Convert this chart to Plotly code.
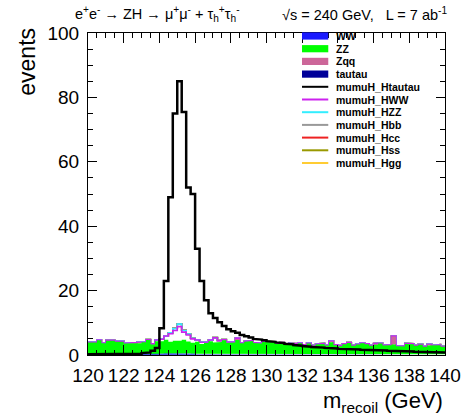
import numpy as np
import plotly.graph_objects as go

# ---------------- data ----------------
X_MIN, X_MAX, BIN_W = 120.0, 140.0, 0.25
edges = X_MIN + BIN_W * np.arange(81)

ww = [0.15]*16 + [0.3, 0.4, 0.4, 0.5, 0.5, 0.4, 0.4, 0.3] + [0.15]*56
tautau = [0.1]*80
zz = [3.6, 3.6, 4.3, 3.4, 4.2, 4.2, 3.9, 3.9, 3.3, 3.3, 3.5, 3.4, 3.7, 4.4, 3.0, 4.0,
      3.9, 4.2, 3.6, 3.8, 3.8, 4.2, 3.7, 3.4, 3.9, 3.2, 3.5, 4.0, 3.6, 3.8, 4.3, 3.5,
      3.6, 4.4, 3.4, 3.9, 4.1, 3.5, 3.3, 3.8, 3.6, 3.7, 3.2, 3.5, 3.0, 3.3, 3.1, 3.4,
      2.8, 3.3, 2.6, 3.0, 3.2, 2.7, 3.7, 2.8, 2.5, 3.1, 3.5, 2.6, 3.0, 3.4, 3.1, 2.6,
      2.9, 3.3, 2.7, 2.8, 3.0, 2.5, 2.4, 3.2, 3.1, 2.6, 2.9, 2.3, 2.7, 2.6, 2.8, 2.3]
zqq = [0.0]*80
for k, v in {11: 0.2, 33: 0.3, 54: 0.3, 64: 0.3, 68: 2.5, 76: 0.3}.items():
    zqq[k] = v

h_ww = [0.1]*14 + [0.2, 0.4, 0.6, 1.2, 2.5, 3.2, 4.4, 2.4, 2.0, 1.2, 0.5, 0.5, 0.3, 0.4,
                   1.5, 0.4, 0.2, 0.3, 0.2, 0.3] + [0.1]*46
h_zz = [0.05]*18 + [0.3, 0.6, 0.8, 0.5, 0.3, 0.2] + [0.05]*56
h_bb = [0.0]*19 + [0.1, 0.1, 0.1] + [0.0]*58
h_cc = [0.0]*80
h_ss = [0.0]*80
h_gg = [0.0]*80

h_tautau = [0.2, 0.2, 0.2, 0.2, 0.2, 0.2, 0.3, 0.3, 0.3, 0.3, 0.4, 0.4, 0.6, 0.8, 1.3, 2.2,
            8.3, 23.0, 49.0, 75.0, 85.0, 75.5, 52.0, 50.0, 33.0, 23.0, 17.0, 13.0,
            11.5, 10.2, 9.0, 8.0, 7.4, 6.9, 6.2, 5.8, 5.4, 5.0, 4.8, 4.6,
            4.3, 4.1, 3.9, 3.7, 3.5, 3.3, 3.1, 2.9, 2.8, 2.6, 2.5, 2.4,
            2.3, 2.2, 2.1, 2.0, 1.9, 1.9, 1.8, 1.7, 1.7, 1.6, 1.6, 1.5,
            1.5, 1.4, 1.4, 1.3, 1.3, 1.2, 1.2, 1.1, 1.1, 1.0, 1.0, 0.9,
            0.9, 0.8, 0.8, 0.8]

bkg_names = ["WW", "ZZ", "Zqq", "tautau"]
bkg_colors = ["#1a1aff", "#00ff00", "#cc6699", "#000099"]
sig_names = ["mumuH_Htautau", "mumuH_HWW", "mumuH_HZZ", "mumuH_Hbb",
             "mumuH_Hcc", "mumuH_Hss", "mumuH_Hgg"]
sig_colors = ["#000000", "#cc22ee", "#33eeff", "#999999",
              "#ee2222", "#999900", "#ffcc33"]

x_ticks = list(range(120, 141, 2))
y_ticks = list(range(0, 101, 20))

# ---------------- helpers ----------------
def step_xy(vals):
    xs, ys = [], []
    for i, v in enumerate(vals):
        xs += [edges[i], edges[i + 1]]
        ys += [v, v]
    return xs, ys

# stack order (bottom -> top): tautau, WW, ZZ, Zqq, HWW, HZZ, Hbb, Hcc, Hss, Hgg
stack_bkg = [("tautau", tautau, "#000099"), ("WW", ww, "#1a1aff"),
             ("ZZ", zz, "#00ff00"), ("Zqq", zqq, "#cc6699")]
stack_sig = [("mumuH_HWW", h_ww, "#cc22ee"), ("mumuH_HZZ", h_zz, "#33eeff"),
             ("mumuH_Hbb", h_bb, "#999999"), ("mumuH_Hcc", h_cc, "#ee2222"),
             ("mumuH_Hss", h_ss, "#999900"), ("mumuH_Hgg", h_gg, "#ffcc33")]

cum = np.zeros(80)
bkg_layers = []
for name, vals, col in stack_bkg:
    lower = cum.copy()
    cum = cum + np.array(vals)
    bkg_layers.append((name, lower, cum.copy(), col))
sig_layers = []
for name, vals, col in stack_sig:
    cum = cum + np.array(vals)
    sig_layers.append((name, cum.copy(), col))

fig = go.Figure()

# stacked signal lines, top-most first
for name, top, col in reversed(sig_layers):
    xs, ys = step_xy(top)
    fig.add_trace(go.Scatter(x=xs, y=ys, mode="lines", name=name,
                             line=dict(color=col, width=1.6), showlegend=False,
                             hoverinfo="skip"))

# stacked background fills, top-most first
for name, lower, upper, col in reversed(bkg_layers):
    xu, yu = step_xy(upper)
    xl, yl = step_xy(lower)
    xs = xu + xl[::-1]
    ys = yu + yl[::-1]
    fig.add_trace(go.Scatter(x=xs, y=ys, mode="lines", fill="toself",
                             fillcolor=col, line=dict(width=0, color=col),
                             name=name, showlegend=False, hoverinfo="skip"))

# signal H->tautau, not stacked
xs, ys = step_xy(h_tautau)
fig.add_trace(go.Scatter(x=xs, y=ys, mode="lines", name="mumuH_Htautau",
                         line=dict(color="black", width=2.5), showlegend=False))

# ---------------- layout ----------------
L, R, T, B = 88, 18, 33, 64
W, H = 473, 419
pw, ph = W - L - R, H - T - B

def px(xp):
    return (xp - L) / pw

def py(yp):
    return (H - B - yp) / ph

FONT = "Liberation Sans, Arial, Helvetica, sans-serif"

fig.update_layout(
    width=W, height=H, margin=dict(l=L, r=R, t=T, b=B),
    paper_bgcolor="white", plot_bgcolor="white",
    font=dict(family=FONT, color="black"),
    xaxis=dict(range=[X_MIN, X_MAX], tickvals=x_ticks,
               ticktext=[str(v) for v in x_ticks],
               ticks="inside", ticklen=10, tickwidth=1, tickcolor="black",
               showline=True, linecolor="black", linewidth=1.2, mirror="allticks",
               showgrid=False, zeroline=False,
               tickfont=dict(size=19, family=FONT), ticklabelstandoff=3,
               minor=dict(dtick=0.5, ticks="inside", ticklen=5, tickcolor="black",
                          showgrid=False)),
    yaxis=dict(range=[0, 100], tickvals=y_ticks,
               ticks="inside", ticklen=9, tickwidth=1, tickcolor="black",
               showline=True, linecolor="black", linewidth=1.2, mirror="allticks",
               showgrid=False, zeroline=False,
               tickfont=dict(size=19, family=FONT), ticklabelstandoff=4,
               minor=dict(dtick=5, ticks="inside", ticklen=5, tickcolor="black",
                          showgrid=False)),
    showlegend=False,
)

ann = []
ann.append(dict(xref="paper", yref="paper", x=px(73), y=py(14), xanchor="left",
                yanchor="middle", showarrow=False,
                text="e<sup>+</sup>e<sup>-</sup> → ZH → μ<sup>+</sup>μ<sup>-</sup> + τ<sub>h</sub><sup>+</sup>τ<sub>h</sub><sup>-</sup>",
                font=dict(size=14.5, family=FONT)))
ann.append(dict(xref="paper", yref="paper", x=px(459), y=py(14), xanchor="right",
                yanchor="middle", showarrow=False,
                text="√s = 240 GeV,   L = 7 ab<sup>-1</sup>",
                font=dict(size=14.5, family=FONT)))
ann.append(dict(xref="paper", yref="paper", x=1.0, y=py(402), xanchor="right",
                yanchor="middle", showarrow=False,
                text="m<sub>recoil</sub> (GeV)", font=dict(size=22, family=FONT)))
ann.append(dict(xref="paper", yref="paper", x=px(25), y=py(26), xanchor="center",
                yanchor="top", showarrow=False, textangle=-90,
                text="events", font=dict(size=23, family=FONT)))

# manual legend
shapes = []
leg_names = bkg_names + sig_names
leg_colors = bkg_colors + sig_colors
row0, dy = 36.0, 12.7
for i, (nm, col) in enumerate(zip(leg_names, leg_colors)):
    yc = row0 + i * dy
    if i < len(bkg_names):
        shapes.append(dict(type="rect", xref="paper", yref="paper",
                           x0=px(308), x1=px(335), y0=py(yc - 3.6), y1=py(yc + 3.6),
                           fillcolor=col, line=dict(width=0)))
    else:
        shapes.append(dict(type="line", xref="paper", yref="paper",
                           x0=px(308), x1=px(335), y0=py(yc), y1=py(yc),
                           line=dict(color=col, width=2)))
    ann.append(dict(xref="paper", yref="paper", x=px(341), y=py(yc), xanchor="left",
                    yanchor="middle", showarrow=False,
                    text="<b>%s</b>" % nm, font=dict(size=10.5, family=FONT)))

fig.update_layout(annotations=ann, shapes=shapes)
fig.write_html("out.html")
